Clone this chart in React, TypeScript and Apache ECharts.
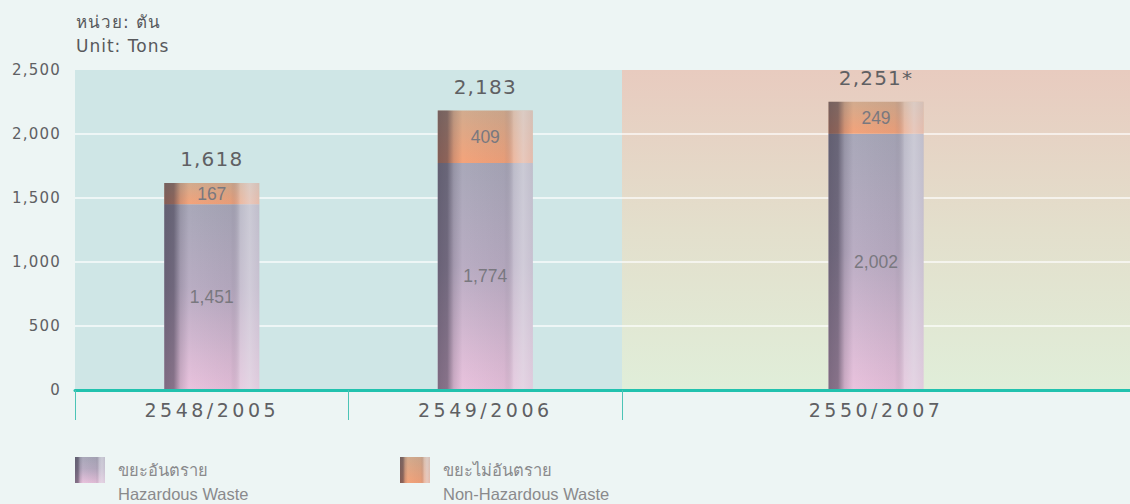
import { useEffect, useRef } from 'react';
import * as echarts from 'echarts';

// ---- data ----
const categories = ['2548/2005', '2549/2006', '2550/2007'];
const hazardous = [1451, 1774, 2002];
const nonHazardous = [167, 409, 249];
const totals = [1618, 2183, 2251];
const totalNotes = ['', '', '*'];
const yTicks = [0, 500, 1000, 1500, 2000, 2500];
const legendTh = ['ขยะอันตราย', 'ขยะไม่อันตราย'];
const legendEn = ['Hazardous Waste', 'Non-Hazardous Waste'];
const unitTh = 'หน่วย: ตัน';
const unitEn = 'Unit: Tons';
// categories 0..1 live in the left (teal) panel, 2 in the right (peach) panel
const panels = [[0, 1], [2]];

const fmt = (v: number) => v.toLocaleString('en-US');

const lin = (x2: number, y2: number, stops: [number, string][]) => ({
  type: 'linear', x: 0, y: 0, x2, y2,
  colorStops: stops.map(([offset, color]) => ({ offset, color })),
});

const hazFill = lin(0, 1, [[0, '#a9a8b9'], [0.45, '#b9adc3'], [1, '#e9c2dd']]);
const nonFill = lin(0, 1, [[0, '#d2ab8e'], [1, '#f4a37a']]);
const shade = lin(1, 0, [
  [0, 'rgba(40,35,55,0.55)'],
  [0.1, 'rgba(40,35,55,0.5)'],
  [0.17, 'rgba(40,35,55,0.15)'],
  [0.26, 'rgba(40,35,55,0)'],
  [0.7, 'rgba(60,50,70,0.06)'],
  [0.8, 'rgba(225,225,232,0.35)'],
  [0.9, 'rgba(225,225,232,0.6)'],
  [1, 'rgba(215,212,222,0.5)'],
]);
const rightBg = lin(0, 1, [[0, '#e8cbbf'], [0.5, '#e3dfcc'], [1, '#e0eed9']]);

const AXIS = '#22c2ae';
const TXT = '#5f6063';
const SP_S = "'DejaVu Sans', spacedS";
const SP_X = "'DejaVu Sans', spacedX";

export default function App() {
  const ref = useRef<HTMLDivElement>(null);
  useEffect(() => {
    if (!ref.current) return;
    const chart = echarts.init(ref.current, undefined, { renderer: 'svg' });

    const grids = [
      { left: 75, top: 70, width: 547, height: 320, show: true, borderWidth: 0, backgroundColor: '#cfe6e6' },
      { left: 622, top: 70, width: 509, height: 320, show: true, borderWidth: 0, backgroundColor: rightBg },
    ];

    const xAxes = panels.map((ids, p) => ({
      type: 'category',
      gridIndex: p,
      data: ids.map((i) => categories[i]),
      axisLine: { lineStyle: { color: AXIS, width: 3 } },
      axisTick: { show: true, length: 30, lineStyle: { color: '#4cc4b6', width: 1 } },
      axisLabel: { margin: 10, color: TXT, fontSize: 19, fontFamily: SP_X },
      z: 5,
    }));

    const yAxes = panels.map((_, p) => ({
      type: 'value',
      gridIndex: p,
      min: yTicks[0],
      max: yTicks[yTicks.length - 1],
      interval: yTicks[1] - yTicks[0],
      axisLine: { show: false },
      axisTick: { show: false },
      axisLabel: {
        show: p === 0, margin: 14, color: TXT, fontSize: 15, fontFamily: SP_S,
        formatter: (v: number) => fmt(v),
      },
      splitLine: { show: true, showMaxLine: false, showMinLine: false, lineStyle: { color: 'rgba(255,255,255,0.85)', width: 1.5 } },
    }));

    const innerLabel = {
      show: true, position: 'inside', color: '#79787f', fontSize: 17.5,
      fontFamily: "'Liberation Sans', Arial, sans-serif",
      formatter: (pr: any) => fmt(pr.value),
    };

    const series: any[] = [];
    panels.forEach((ids, p) => {
      series.push({
        type: 'bar', name: legendEn[0], xAxisIndex: p, yAxisIndex: p, stack: 's' + p,
        barWidth: 95, barGap: '-100%',
        data: ids.map((i) => hazardous[i]),
        itemStyle: { color: hazFill }, label: innerLabel,
      });
      series.push({
        type: 'bar', name: legendEn[1], xAxisIndex: p, yAxisIndex: p, stack: 's' + p,
        barWidth: 95, barGap: '-100%',
        data: ids.map((i) => nonHazardous[i]),
        itemStyle: { color: nonFill }, label: innerLabel,
      });
      series.push({
        type: 'bar', name: 'total', xAxisIndex: p, yAxisIndex: p,
        barWidth: 95, barGap: '-100%', silent: true,
        data: ids.map((i) => totals[i]),
        itemStyle: { color: shade },
        label: {
          show: true, position: 'top', distance: 14, color: TXT, fontSize: 20, fontFamily: SP_S,
          formatter: (pr: any) => fmt(totals[ids[pr.dataIndex]]) + totalNotes[ids[pr.dataIndex]],
        },
      });
    });

    const swatch = (x: number, fill: any) => ({
      type: 'group', x, y: 457,
      children: [
        { type: 'rect', shape: { x: 0, y: 0, width: 30, height: 26 }, style: { fill } },
        { type: 'rect', shape: { x: 0, y: 0, width: 30, height: 26 }, style: { fill: shade } },
      ],
    });
    const legendFont = "16.5px 'Liberation Sans', Arial, sans-serif";
    const titleFont = "17px 'DejaVu Sans', spacedT, sans-serif";
    const graphic: any[] = [
      { type: 'text', x: 76, y: 22, style: { text: unitTh, font: titleFont, fill: '#58595c', verticalAlign: 'middle' } },
      { type: 'text', x: 76, y: 46, style: { text: unitEn, font: titleFont, fill: '#58595c', verticalAlign: 'middle' } },
      swatch(75, hazFill),
      swatch(400, nonFill),
      { type: 'text', x: 118, y: 470, style: { text: legendTh[0], font: legendFont, fill: '#8a8a8c', verticalAlign: 'middle' } },
      { type: 'text', x: 118, y: 494, style: { text: legendEn[0], font: legendFont, fill: '#8a8a8c', verticalAlign: 'middle' } },
      { type: 'text', x: 443, y: 470, style: { text: legendTh[1], font: legendFont, fill: '#8a8a8c', verticalAlign: 'middle' } },
      { type: 'text', x: 443, y: 494, style: { text: legendEn[1], font: legendFont, fill: '#8a8a8c', verticalAlign: 'middle' } },
    ];

    chart.setOption({
      animation: false,
      backgroundColor: '#edf5f4',
      grid: grids,
      xAxis: xAxes,
      yAxis: yAxes,
      series,
      graphic,
    } as any);

    return () => chart.dispose();
  }, []);

  return (
    <>
      <style>{`
        #wastechart text[style*="spacedS"] { letter-spacing: 1.2px; }
        #wastechart text[style*="spacedT"] { letter-spacing: 1px; }
        #wastechart text[style*="spacedX"] { letter-spacing: 3.5px; }
      `}</style>
      <div
        id="wastechart"
        ref={ref}
        style={{ position: 'fixed', left: 0, top: 0, width: 1130, height: 504 }}
      />
    </>
  );
}
